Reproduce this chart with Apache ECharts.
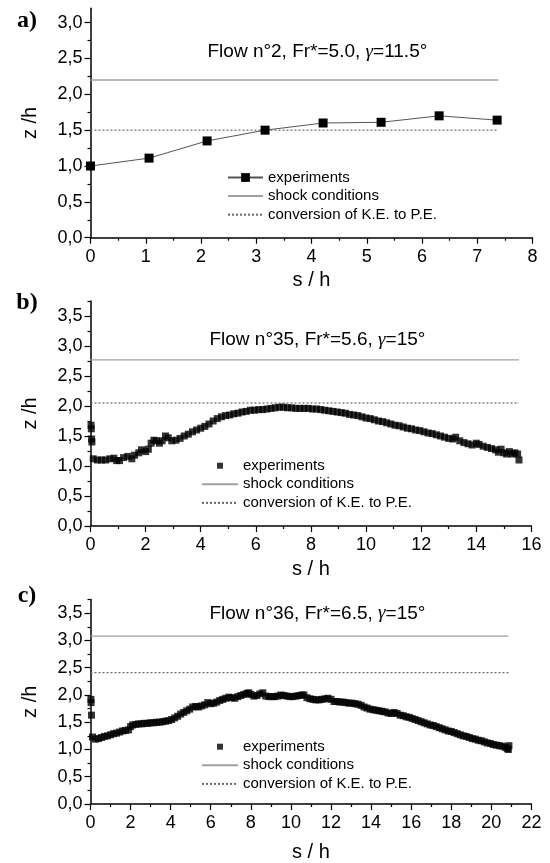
<!DOCTYPE html>
<html><head><meta charset="utf-8">
<script src="https://cdn.jsdelivr.net/npm/echarts@6/dist/echarts.min.js"></script>
<style>html,body{margin:0;padding:0;background:#fff}#c{width:550px;height:863px}</style>
</head><body><div id="c"></div><script>
// ---------- Panel a ----------
const sA = [0, 1.06, 2.11, 3.16, 4.21, 5.26, 6.31, 7.36];
const zA = [1.00, 1.11, 1.35, 1.50, 1.60, 1.61, 1.70, 1.64];
const shockA = 2.2, keA = 1.5, endA = 7.38;
// ---------- Panel b ----------
const sB = [0.02,0.03,0.04,0.05,0.10,0.25,0.40,0.55,0.70,0.85,0.95,1.05,1.20,1.35,1.50,1.60,1.75,1.85,2.00,2.10,2.20,2.30,2.40,2.50,2.60,2.72,2.82,2.95,3.10,3.25,3.40,3.55,3.70,3.85,4.00,4.15,4.30,4.45,4.60,4.75,4.90,5.05,5.20,5.35,5.50,5.65,5.80,5.95,6.10,6.25,6.40,6.55,6.70,6.85,7.00,7.15,7.30,7.45,7.60,7.75,7.90,8.05,8.20,8.35,8.50,8.65,8.80,8.95,9.10,9.25,9.40,9.55,9.70,9.85,10.00,10.15,10.30,10.45,10.60,10.75,10.90,11.05,11.20,11.35,11.50,11.65,11.80,11.95,12.10,12.25,12.40,12.55,12.70,12.85,13.00,13.15,13.25,13.40,13.55,13.70,13.85,14.00,14.10,14.25,14.40,14.55,14.70,14.80,14.90,15.00,15.10,15.20,15.30,15.40,15.50,15.55];
const zB = [1.68,1.62,1.45,1.40,1.12,1.10,1.10,1.10,1.12,1.13,1.09,1.09,1.14,1.16,1.12,1.18,1.22,1.27,1.24,1.28,1.38,1.43,1.42,1.38,1.42,1.50,1.47,1.42,1.43,1.46,1.50,1.53,1.57,1.60,1.63,1.66,1.70,1.75,1.79,1.82,1.84,1.85,1.87,1.88,1.90,1.91,1.93,1.93,1.94,1.94,1.95,1.96,1.97,1.98,1.98,1.97,1.97,1.96,1.96,1.96,1.96,1.95,1.95,1.94,1.93,1.92,1.91,1.90,1.89,1.88,1.86,1.85,1.84,1.82,1.80,1.79,1.77,1.75,1.74,1.72,1.70,1.68,1.67,1.65,1.63,1.62,1.60,1.59,1.57,1.55,1.54,1.52,1.50,1.48,1.46,1.45,1.48,1.42,1.39,1.37,1.35,1.38,1.36,1.33,1.31,1.29,1.27,1.23,1.28,1.22,1.20,1.24,1.20,1.22,1.20,1.10];
const shockB = 2.77, keB = 2.05, endB = 15.55;
// ---------- Panel c ----------
const sC = [0.02,0.03,0.05,0.10,0.25,0.40,0.55,0.70,0.85,1.00,1.15,1.30,1.45,1.60,1.75,1.90,2.00,2.10,2.25,2.40,2.55,2.70,2.85,3.00,3.15,3.30,3.45,3.60,3.75,3.90,4.05,4.20,4.35,4.50,4.65,4.80,4.95,5.10,5.25,5.40,5.55,5.70,5.85,6.00,6.15,6.30,6.45,6.60,6.75,6.90,7.05,7.20,7.35,7.50,7.65,7.80,7.90,8.00,8.15,8.30,8.45,8.60,8.75,8.90,9.05,9.20,9.35,9.50,9.65,9.80,9.95,10.10,10.25,10.40,10.55,10.65,10.80,10.95,11.10,11.25,11.40,11.55,11.70,11.85,12.00,12.15,12.30,12.45,12.60,12.75,12.90,13.05,13.20,13.35,13.50,13.65,13.80,13.95,14.10,14.25,14.40,14.55,14.70,14.85,15.00,15.15,15.30,15.45,15.60,15.75,15.90,16.05,16.20,16.35,16.50,16.65,16.80,16.95,17.10,17.25,17.40,17.55,17.70,17.85,18.00,18.15,18.30,18.45,18.60,18.75,18.90,19.05,19.20,19.35,19.50,19.65,19.80,19.95,20.10,20.25,20.40,20.55,20.70,20.80,20.85,20.88];
const zC = [1.92,1.86,1.63,1.23,1.19,1.20,1.22,1.24,1.25,1.27,1.29,1.30,1.32,1.34,1.35,1.36,1.42,1.45,1.46,1.47,1.47,1.48,1.48,1.49,1.49,1.50,1.50,1.51,1.52,1.53,1.55,1.58,1.61,1.65,1.68,1.71,1.74,1.78,1.79,1.78,1.80,1.82,1.86,1.84,1.85,1.87,1.90,1.92,1.94,1.96,1.95,1.94,1.97,1.99,2.01,2.03,2.04,2.01,1.98,1.99,2.02,2.04,1.98,1.97,1.97,1.97,1.98,2.00,1.99,1.98,1.97,1.97,1.98,1.99,2.00,2.00,1.95,1.93,1.92,1.91,1.91,1.92,1.93,1.94,1.92,1.88,1.88,1.87,1.87,1.86,1.85,1.85,1.84,1.83,1.81,1.78,1.76,1.74,1.73,1.72,1.71,1.70,1.69,1.67,1.66,1.68,1.66,1.63,1.62,1.60,1.59,1.57,1.55,1.53,1.51,1.49,1.47,1.45,1.44,1.42,1.40,1.38,1.36,1.34,1.33,1.31,1.29,1.27,1.25,1.24,1.22,1.20,1.19,1.17,1.16,1.14,1.12,1.11,1.09,1.08,1.07,1.06,1.04,1.02,1.00,1.07];
const shockC = 3.08, keC = 2.41, endC = 20.86;

// ---------- Text / axes ----------
const titleTexts = ['Flow n°2, Fr*=5.0, {g|γ}=11.5°', 'Flow n°35, Fr*=5.6, {g|γ}=15°', 'Flow n°36, Fr*=6.5, {g|γ}=15°'];
const panelLabels = ['a)', 'b)', 'c)'];
const legendNames = ['experiments', 'shock conditions', 'conversion of K.E. to P.E.'];
const xMax = [8, 16, 22];
const xInterval = [1, 2, 2];
const yMax = [3.2, 3.75, 3.75];
const yMajorTicks = [0, 0.5, 1, 1.5, 2, 2.5, 3, 3.5];
const yMinorTicks = [0.25, 0.75, 1.25, 1.75, 2.25, 2.75, 3.25, 3.75];
const xName = 's / h', yName = 'z /h';

// ---------- Layout ----------
const grids = [
  {left: 90.5, right: 17.5, top: 8.3, bottom: 625.3},
  {left: 90.5, right: 18.6, top: 301, bottom: 337},
  {left: 90.5, right: 18.6, top: 599.6, bottom: 57}
];
const titleY = [52, 340, 613.3];
const labelY = [21, 303, 596];
const legendPos = [{left: 227, top: 170}, {left: 201, top: 458.2}, {left: 201, top: 739.2}];
const xNameGap = [33, 33, 38];
const FONT = '"Liberation Sans", Arial, sans-serif';
const CLEAR = 'rgba(0,0,0,0)';

const xAxes = [], yAxes = [], series = [], legends = [], graphics = [];
const sfx = ['', ' ', '  '];
const expData = [
  sA.map((s, i) => [s, zA[i]]),
  sB.map((s, i) => [s, zB[i]]),
  sC.map((s, i) => [s, zC[i]])
];
const shock = [shockA, shockB, shockC], ke = [keA, keB, keC], ends = [endA, endB, endC];

for (let p = 0; p < 3; p++) {
  xAxes.push({
    type: 'value', gridIndex: p, min: 0, max: xMax[p], interval: xInterval[p],
    name: xName, nameLocation: 'middle', nameGap: xNameGap[p],
    nameTextStyle: {fontSize: 20, color: '#000', fontFamily: FONT},
    axisLine: {onZero: false, lineStyle: {color: '#000', width: 1.5}},
    axisTick: {inside: false, length: 6, lineStyle: {color: '#000', width: 1.2}},
    minorTick: {show: true, splitNumber: 2, length: 3, lineStyle: {color: '#000', width: 1.2}},
    splitLine: {show: false}, minorSplitLine: {show: false},
    axisLabel: {fontSize: 18, color: '#000', margin: 10, fontFamily: FONT}
  });
  const majors = yMajorTicks.filter(v => v <= yMax[p] + 1e-9);
  const minors = yMinorTicks.filter(v => v <= yMax[p] + 1e-9);
  yAxes.push({
    type: 'value', gridIndex: p, min: 0, max: yMax[p], interval: 0.5,
    name: yName, nameLocation: 'middle', nameGap: 50, nameRotate: 90,
    nameTextStyle: {fontSize: 20, color: '#000', fontFamily: FONT},
    axisLine: {onZero: false, lineStyle: {color: '#000', width: 1.5}},
    axisTick: {inside: false, length: 6, customValues: majors, lineStyle: {color: '#000', width: 1.2}},
    splitLine: {show: false},
    axisLabel: {fontSize: 18, color: '#000', margin: 8, fontFamily: FONT, customValues: majors,
      formatter: v => v.toFixed(1).replace('.', ',')}
  });
  yAxes.push({
    type: 'value', gridIndex: p, min: 0, max: yMax[p], position: 'left',
    axisLine: {show: false},
    axisTick: {show: true, inside: false, length: 3, customValues: minors, lineStyle: {color: '#000', width: 1.2}},
    splitLine: {show: false}, axisLabel: {show: false}
  });

  const exp = {
    name: legendNames[0] + sfx[p], xAxisIndex: p, yAxisIndex: 2 * p, data: expData[p], z: 5,
    symbol: 'rect', symbolKeepAspect: true, itemStyle: {color: '#000'}
  };
  if (p === 0) {
    Object.assign(exp, {type: 'line', symbolSize: 9, showSymbol: true,
      lineStyle: {color: '#555', width: 1}});
  } else {
    Object.assign(exp, {type: 'scatter', symbolSize: 7});
  }
  series.push(exp);
  series.push({
    type: 'line', name: legendNames[1] + sfx[p], xAxisIndex: p, yAxisIndex: 2 * p,
    data: [[0, shock[p]], [ends[p], shock[p]]], symbol: 'none',
    lineStyle: {color: '#a0a0a0', width: 1.3}, itemStyle: {color: '#a0a0a0'}
  });
  series.push({
    type: 'line', name: legendNames[2] + sfx[p], xAxisIndex: p, yAxisIndex: 2 * p,
    data: [[0, ke[p]], [ends[p], ke[p]]], symbol: 'none',
    lineStyle: {color: '#666', width: 1.2, type: [2, 2]}, itemStyle: {color: '#666'}
  });
  const expLegend = p === 0
    ? {name: legendNames[0] + sfx[p]}
    : {name: legendNames[0] + sfx[p], icon: 'path://M0,0L1,0L1,1L0,1Z'};
  legends.push({
    orient: 'vertical', left: legendPos[p].left, top: legendPos[p].top,
    itemWidth: p === 0 ? 35 : 36, itemHeight: p === 0 ? 11 : 6, itemGap: 3.6,
    selectedMode: false, padding: 0, symbolKeepAspect: true,
    data: [
      expLegend,
      {name: legendNames[1] + sfx[p], itemStyle: {color: CLEAR, opacity: 0, borderWidth: 0}},
      {name: legendNames[2] + sfx[p], itemStyle: {color: CLEAR, opacity: 0, borderWidth: 0}}
    ],
    formatter: n => n.trim(),
    textStyle: {fontSize: 15, color: '#000', fontFamily: FONT, lineHeight: 15}
  });
  graphics.push({
    type: 'text', x: 317.4, y: titleY[p],
    style: {text: titleTexts[p], fontSize: 19, fontFamily: FONT, fill: '#000',
      align: 'center', verticalAlign: 'middle',
      rich: {g: {fontSize: 19, fontStyle: 'italic', fontFamily: '"Liberation Serif", "Times New Roman", serif', fill: '#000'}}}
  });
  graphics.push({
    type: 'text', x: 27, y: labelY[p],
    style: {text: panelLabels[p], fontSize: 24, fontWeight: 'bold',
      fontFamily: '"Liberation Serif", "Times New Roman", serif', fill: '#000',
      align: 'center', verticalAlign: 'middle'}
  });
}

const chart = echarts.init(document.getElementById('c'), null, {renderer: 'canvas'});
chart.setOption({
  animation: false,
  backgroundColor: '#fff',
  grid: grids,
  xAxis: xAxes,
  yAxis: yAxes,
  legend: legends,
  series: series,
  graphic: graphics
});
</script></body></html>
